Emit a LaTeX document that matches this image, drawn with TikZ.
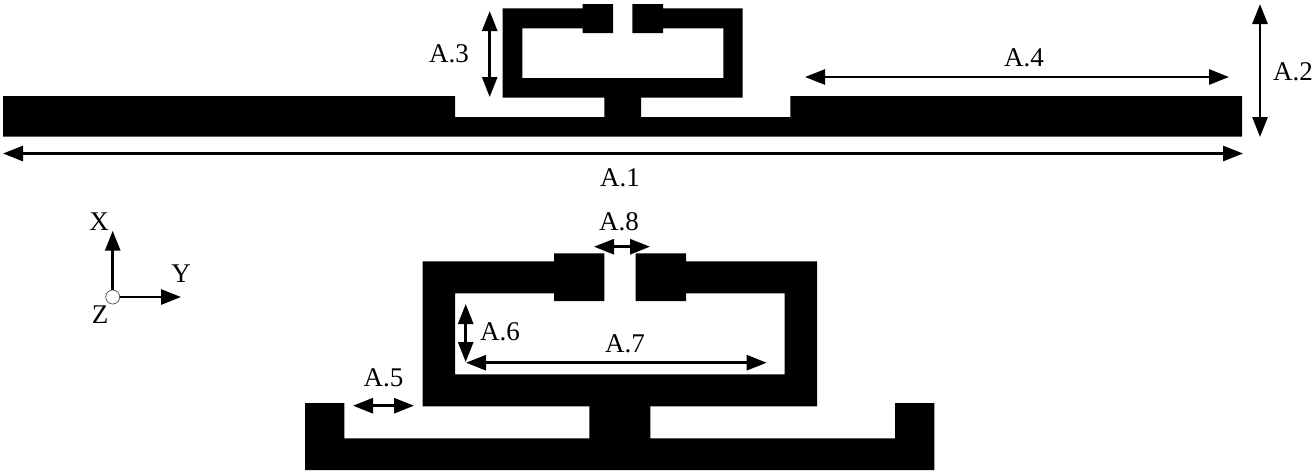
\documentclass[tikz,border=0pt]{standalone}
\usepackage{fontspec}
\setmainfont{Liberation Serif}
\usetikzlibrary{arrows.meta}
\tikzset{
  metal/.style={fill=black,draw=none},
  dimarrow/.style={line width=2.7pt,{Triangle[length=20pt,width=15pt]}-{Triangle[length=20pt,width=15pt]}},
  axisarrow/.style={line width=2.7pt,-{Triangle[length=20pt,width=15pt]}},
  dimlabel/.style={inner sep=0pt,font=\fontsize{27}{27}\selectfont},
  origin/.style={circle,draw=black!70,fill=white,line width=0.7pt,minimum size=14pt,inner sep=0pt}
}
\begin{document}
\begin{tikzpicture}[x=1pt,y=-1pt]
\useasboundingbox[fill=white] (0,0) rectangle (1314,475);
% top structure: ground strip (stem runs into the loop so no seam shows)
\fill[metal] (3,96) -- (455,96) -- (455,117) -- (604.3,117) -- (604.3,90) -- (641,90) -- (641,117) -- (790.3,117) -- (790.3,96) -- (1242,96) -- (1242,136.7) -- (3,136.7) -- cycle;
% top structure: loop
\fill[metal] (502.7,8.3) -- (582.7,8.3) -- (582.7,4) -- (613,4) -- (613,33) -- (582.7,33) -- (582.7,28.3) -- (522.3,28.3) -- (522.3,78) -- (723.3,78) -- (723.3,28.3) -- (663,28.3) -- (663,33) -- (632.3,33) -- (632.3,4) -- (663,4) -- (663,8.3) -- (742.7,8.3) -- (742.7,97.7) -- (502.7,97.7) -- cycle;
% bottom structure: ground strip
\fill[metal] (305,403) -- (344.3,403) -- (344.3,438.3) -- (589.3,438.3) -- (589.3,396) -- (650.3,396) -- (650.3,438.3) -- (895,438.3) -- (895,403) -- (934.3,403) -- (934.3,470) -- (305,470) -- cycle;
% bottom structure: loop
\fill[metal] (422.7,261.3) -- (554,261.3) -- (554,253.3) -- (604.3,253.3) -- (604.3,301) -- (554,301) -- (554,293.3) -- (455,293.3) -- (455,374.3) -- (784.7,374.3) -- (784.7,293.3) -- (686,293.3) -- (686,301) -- (635.7,301) -- (635.7,253.3) -- (686,253.3) -- (686,261.3) -- (817,261.3) -- (817,406.3) -- (422.7,406.3) -- cycle;
% dimension end points
\coordinate (a1l) at (3,153.5);   \coordinate (a1r) at (1243,153.5);
\coordinate (a2t) at (1260,4);    \coordinate (a2b) at (1260,137);
\coordinate (a3t) at (489.7,11);  \coordinate (a3b) at (489.7,97);
\coordinate (a4l) at (805,77);    \coordinate (a4r) at (1229,77);
\coordinate (a5l) at (353,405.7); \coordinate (a5r) at (414,405.7);
\coordinate (a6t) at (465.7,304); \coordinate (a6b) at (465.7,362);
\coordinate (a7l) at (466,362.7); \coordinate (a7r) at (766.7,362.7);
\coordinate (a8l) at (594,246.7); \coordinate (a8r) at (650,246.7);
\draw[dimarrow] (a1l) -- (a1r);
\draw[dimarrow] (a2t) -- (a2b);
\draw[dimarrow] (a3t) -- (a3b);
\draw[dimarrow] (a4l) -- (a4r);
\draw[dimarrow] (a5l) -- (a5r);
\draw[dimarrow] (a6t) -- (a6b);
\draw[dimarrow] (a7l) -- (a7r);
\draw[dimarrow] (a8l) -- (a8r);
% labels
\node[dimlabel] (l1) at (620,178) {A.1};
\node[dimlabel] (l2) at (1293,72) {A.2};
\node[dimlabel] (l3) at (449,54) {A.3};
\node[dimlabel] (l4) at (1024,58) {A.4};
\node[dimlabel] (l5) at (383.5,378) {A.5};
\node[dimlabel] (l6) at (500,332) {A.6};
\node[dimlabel] (l7) at (625,344) {A.7};
\node[dimlabel] (l8) at (619,222) {A.8};
% axes
\coordinate (xtip) at (112.7,230.7);
\coordinate (ytip) at (181,297);
\node[origin] (o) at (112.7,297) {};
\draw[axisarrow] (o) -- (xtip);
\draw[axisarrow] (o) -- (ytip);
\node[dimlabel] (lx) at (99,222) {X};
\node[dimlabel] (ly) at (181,274) {Y};
\node[dimlabel] (lz) at (100,315) {Z};
\end{tikzpicture}
\end{document}
